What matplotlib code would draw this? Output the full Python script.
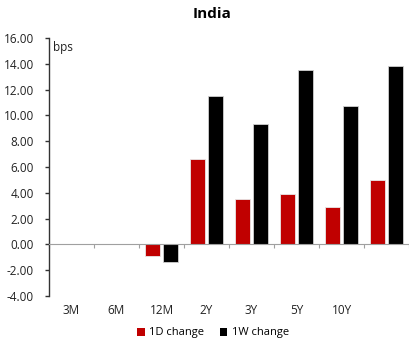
import numpy as np
import matplotlib
matplotlib.use("Agg")
import matplotlib.pyplot as plt
from matplotlib.patches import Patch

categories = ["3M", "6M", "12M", "2Y", "3Y", "5Y", "10Y", ""]
change_1d = [0.0, 0.0, -0.9, 6.6, 3.5, 3.9, 2.9, 5.0]
change_1w = [0.0, 0.0, -1.4, 11.5, 9.35, 13.5, 10.75, 13.8]
yticks = np.arange(-4, 16.01, 2)

plt.rcParams['font.family'] = ['Open Sans', 'DejaVu Sans']

fig = plt.figure(figsize=(4.09, 3.42), dpi=100)
ax = fig.add_axes([49 / 409, 46 / 342, 1 - 49 / 409, 258 / 342])

x = np.arange(len(categories))
w = 0.34
ax.bar(x - 0.03 - w / 2, change_1d, w, color="#c00000", edgecolor="#e8e8e8", linewidth=0.6, label="1D change")
ax.bar(x + 0.03 + w / 2, change_1w, w, color="#000000", edgecolor="#d0d0d0", linewidth=0.6, label="1W change")

ax.set_xlim(-0.5, len(categories) - 0.5)
ax.set_ylim(-4, 16)
ax.set_yticks(yticks)
ax.set_yticklabels(["%.2f" % v for v in yticks], fontsize=8.5, color="#222222")
ax.tick_params(axis="y", direction="out", length=3, width=1, color="#333333", pad=8)

# bottom axis sits on zero, ticks at category boundaries
ax.spines["bottom"].set_position(("data", 0))
ax.spines["bottom"].set_color("#a0a0a0")
ax.set_xticks(np.arange(-0.5, len(categories), 1.0))
ax.set_xticklabels([])
ax.tick_params(axis="x", direction="out", length=3, color="#a0a0a0")
for i, c in enumerate(categories):
    ax.text(i, -0.058, c, transform=ax.get_xaxis_transform(), ha="center", va="center",
            fontsize=8.5, color="#222222")

ax.spines["left"].set_color("#333333")
ax.spines["left"].set_linewidth(1)
ax.spines["top"].set_visible(False)
ax.spines["right"].set_visible(False)

ax.text(0.012, 0.99, "bps", transform=ax.transAxes, ha="left", va="top", fontsize=8.5, color="#222222")
fig.text(212 / 409, 1 - 14 / 342, "India", ha="center", va="center", fontsize=11, fontweight="bold")

handles = [Patch(facecolor="#c00000"), Patch(facecolor="#000000")]
fig.legend(handles, ["1D change", "1W change"], loc="center", bbox_to_anchor=(213 / 409, 1 - 333 / 342),
           ncol=2, frameon=False, fontsize=8, handlelength=0.7, handleheight=0.7,
           handletextpad=0.4, columnspacing=1.4)

fig.savefig("out.png", dpi=100)
